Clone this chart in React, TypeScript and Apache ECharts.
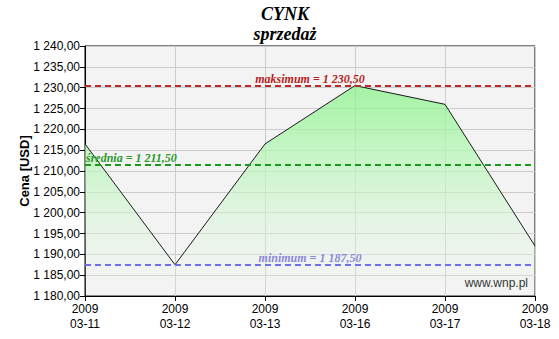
import React, { useEffect, useRef } from "react";
import * as echarts from "echarts";

const categories = ["2009\n03-11", "2009\n03-12", "2009\n03-13", "2009\n03-16", "2009\n03-17", "2009\n03-18"];
const prices = [1216.5, 1187.5, 1216.5, 1230.5, 1226.0, 1192.0];
const maxValue = 1230.5;
const avgValue = 1211.5;
const minValue = 1187.5;
const titleLines = ["CYNK", "sprzedaż"];
const yAxisName = "Cena [USD]";
const watermark = "www.wnp.pl";

const fmt = (v: number) => {
  const s = v.toFixed(2).replace(".", ",");
  const [i, d] = s.split(",");
  return i.replace(/\B(?=(\d{3})+(?!\d))/g, " ") + "," + d;
};

export default function App() {
  const ref = useRef<HTMLDivElement>(null);
  useEffect(() => {
    const chart = echarts.init(ref.current!, null, { renderer: "svg" });
    const serif = "'Liberation Serif', 'DejaVu Serif', serif";
    const sans = "'Liberation Sans', Arial, sans-serif";
    chart.setOption({
      animation: false,
      backgroundColor: "#ffffff",
      title: [
        {
          text: titleLines[0],
          left: 280,
          top: 0,
          textAlign: "center",
          textStyle: { fontFamily: serif, fontStyle: "italic", fontWeight: "bold", fontSize: 18, color: "#000" },
        },
        {
          text: titleLines[1],
          left: 280,
          top: 20,
          textAlign: "center",
          textStyle: { fontFamily: serif, fontStyle: "italic", fontWeight: "bold", fontSize: 18, color: "#000" },
        },
      ],
      grid: {
        left: 85,
        right: 24,
        top: 46,
        bottom: 43,
        show: true,
        backgroundColor: "#f3f3f3",
        borderColor: "#000",
        borderWidth: 1,
      },
      xAxis: {
        type: "category",
        data: categories,
        boundaryGap: false,
        axisLine: { lineStyle: { color: "#000" } },
        axisTick: { show: true, length: 5, lineStyle: { color: "#000" } },
        axisLabel: { color: "#000", fontFamily: sans, fontSize: 12, lineHeight: 15, margin: 5 },
        splitLine: { show: true, lineStyle: { color: "#cccccc" } },
      },
      yAxis: {
        type: "value",
        min: 1180,
        max: 1240,
        interval: 5,
        name: yAxisName,
        nameLocation: "middle",
        nameGap: 54,
        nameMoveOverlap: false,
        nameTextStyle: { fontFamily: sans, fontWeight: "bold", fontSize: 13, color: "#000" },
        axisLine: { show: true, lineStyle: { color: "#000" } },
        axisTick: { show: true, length: 5, lineStyle: { color: "#000" } },
        axisLabel: { color: "#000", fontFamily: sans, fontSize: 12, margin: 5, formatter: (v: number) => fmt(v) },
        splitLine: { show: true, lineStyle: { color: "#cccccc" } },
      },
      graphic: [
        {
          type: "text",
          right: 31,
          bottom: 50,
          style: { text: watermark, fontFamily: sans, fontSize: 12, fill: "#000" },
        },
      ],
      series: [
        {
          type: "line",
          data: prices,
          symbol: "none",
          lineStyle: { color: "#1a1a1a", width: 1 },
          areaStyle: {
            origin: "start",
            color: new echarts.graphic.LinearGradient(0, 0, 0, 1, [
              { offset: 0, color: "#84f484" },
              { offset: 0.45, color: "#c4f6c4" },
              { offset: 1, color: "rgba(245,245,245,0.2)" },
            ]),
          },
          markLine: {
            silent: true,
            symbol: "none",
            data: [
              {
                yAxis: maxValue,
                lineStyle: { color: "#c0282a", type: [6, 4], width: 2 },
                label: {
                  position: "insideMiddleTop",
                  formatter: "maksimum = " + fmt(maxValue),
                  color: "#b81e22",
                  fontFamily: serif,
                  fontStyle: "italic",
                  fontWeight: "bold",
                  fontSize: 12,
                  distance: 1,
                },
              },
              {
                yAxis: avgValue,
                lineStyle: { color: "#1a9a1a", type: [6, 4], width: 2 },
                label: {
                  position: "insideStartTop",
                  formatter: "średnia = " + fmt(avgValue),
                  color: "#2a9a2a",
                  fontFamily: serif,
                  fontStyle: "italic",
                  fontWeight: "bold",
                  fontSize: 12,
                  distance: 1,
                },
              },
              {
                yAxis: minValue,
                lineStyle: { color: "#7070ee", type: [6, 4], width: 2 },
                label: {
                  position: "insideMiddleTop",
                  formatter: "minimum = " + fmt(minValue),
                  color: "#8a8ad8",
                  fontFamily: serif,
                  fontStyle: "italic",
                  fontWeight: "bold",
                  fontSize: 12,
                  distance: 1,
                },
              },
            ],
          },
        },
      ],
    });
    return () => chart.dispose();
  }, []);
  return <div ref={ref} style={{ width: 559, height: 339, position: "absolute", left: 0, top: 0 }} />;
}
